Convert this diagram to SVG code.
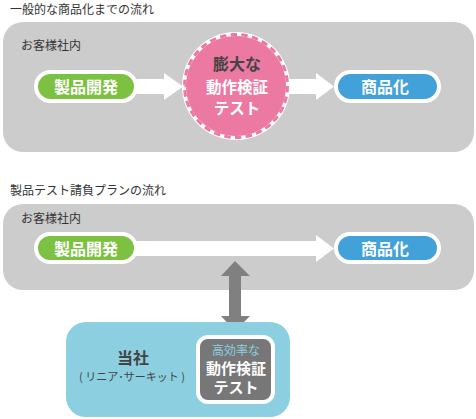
<svg xmlns="http://www.w3.org/2000/svg" width="476" height="419" viewBox="0 0 476 419">
<style>
text{font-family:"Noto Sans CJK JP","Noto Sans",sans-serif}
.t{font-size:12px;fill:#333}
.lb{font-size:16px;font-weight:bold;fill:#fff;text-anchor:middle}
.bg{fill:#cccccc}
.pill-g{fill:#7dc142;stroke:#fff;stroke-width:4}
.pill-b{fill:#42a1d9;stroke:#fff;stroke-width:4}
.arr{fill:#fff}
</style>
<rect x="0" y="0" width="476" height="419" fill="#fff"/>
<text class="t" x="10" y="14">一般的な商品化までの流れ</text>
<g id="group1">
<rect class="bg" x="3" y="22" width="471" height="130" rx="20"/>
<text class="t" x="21" y="50">お客様社内</text>
</g>
<text class="t" x="10" y="195">製品テスト請負プランの流れ</text>
<g id="group2">
<rect class="bg" x="3" y="204" width="471" height="86" rx="20"/>
<text class="t" x="21" y="223">お客様社内</text>
</g>
<g id="connectors">
<polygon class="arr" points="136,79 164,79 164,73 183,86.5 164,100 164,94 136,94"/>
<polygon class="arr" points="288,79 316,79 316,73 334,86.5 316,100 316,94 288,94"/>
<polygon class="arr" points="136,241 316,241 316,235 334,248.5 316,262 316,256 136,256"/>
<polygon fill="#808080" points="235,261 250,276 241,276 241,316 250,316 235,331 221,316 229,316 229,276 221,276"/>
</g>
<g id="dev1">
<rect class="pill-g" x="36" y="72" width="100" height="29" rx="14.5"/>
<text class="lb" x="86" y="93">製品開発</text>
</g>
<g id="test1">
<circle cx="236" cy="86" r="54" fill="#fff"/>
<circle cx="236" cy="86" r="50" fill="#ec79a2"/>
<circle cx="236" cy="86" r="51.5" fill="none" stroke="#ec79a2" stroke-width="3" pathLength="300" stroke-dasharray="6 4"/>
<text class="lb" x="237" y="70" style="fill:#444">膨大な</text>
<text class="lb" x="237" y="92.5" style="font-size:15.5px">動作検証</text>
<text class="lb" x="237" y="113.5" style="font-size:15.5px">テスト</text>
</g>
<g id="prod1">
<rect class="pill-b" x="336" y="72" width="103" height="29" rx="14.5"/>
<text class="lb" x="385" y="93">商品化</text>
</g>
<g id="dev2">
<rect class="pill-g" x="36" y="234" width="100" height="28" rx="14"/>
<text class="lb" x="86" y="254.5">製品開発</text>
</g>
<g id="prod2">
<rect class="pill-b" x="336" y="234" width="103" height="28" rx="14"/>
<text class="lb" x="385" y="254.5">商品化</text>
</g>
<g id="company">
<rect x="66" y="322" width="224" height="95" rx="20" fill="#8ccfe0"/>
<text x="133" y="364" style="font-size:16px;font-weight:bold;fill:#444;text-anchor:middle">当社</text>
<text x="132" y="381" style="font-size:11px;fill:#444;text-anchor:middle">( リニア･サーキット )</text>
</g>
<g id="test2">
<rect x="198" y="337" width="75" height="65" rx="10" fill="#777" stroke="#fff" stroke-width="4"/>
<text x="236" y="354.5" style="font-size:12px;fill:#8ccfe0;text-anchor:middle">高効率な</text>
<text class="lb" x="236" y="373.5" style="font-size:15px">動作検証</text>
<text class="lb" x="236" y="392.5" style="font-size:15px">テスト</text>
</g>
</svg>
